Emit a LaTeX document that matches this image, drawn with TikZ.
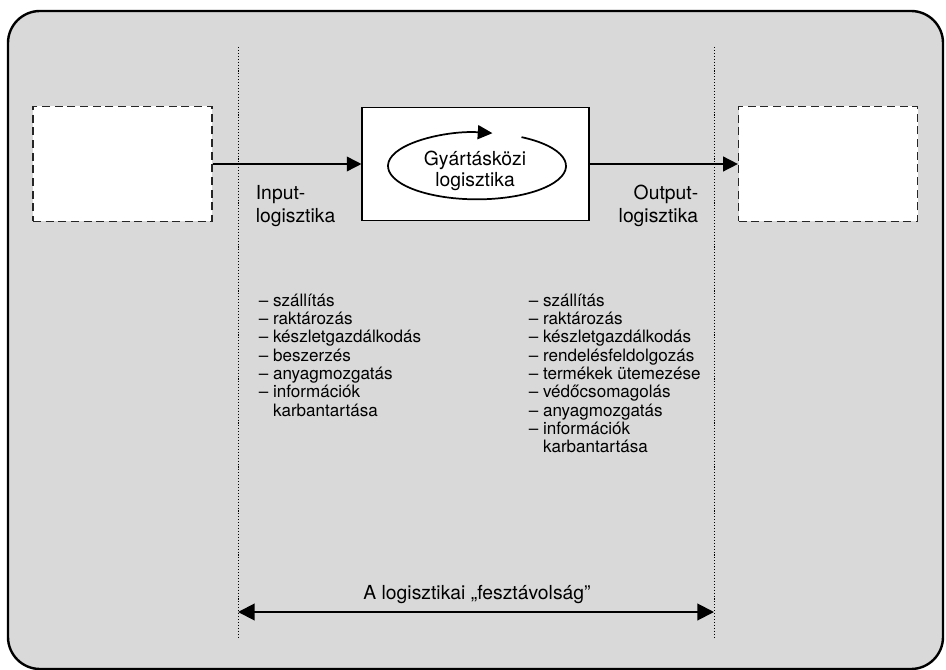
\documentclass[tikz,border=0pt]{standalone}
\usepackage{fontspec}
\setmainfont{TeX Gyre Heros}
\usetikzlibrary{arrows.meta,positioning}

\definecolor{hatter}{RGB}{217,217,217}

\tikzstyle{doboz}=[draw,line width=0.8pt,fill=white,minimum width=170.25pt,minimum height=84.75pt,inner sep=0pt]
\tikzstyle{kulso}=[draw=black!85,fill=white,line width=0.9pt,dash pattern=on 6pt off 3.5pt,minimum width=134.25pt,minimum height=86.25pt,inner sep=0pt]
\tikzstyle{texto}=[inner sep=0pt,font=\fontsize{14.5}{17.25}\selectfont]
\tikzstyle{lista}=[inner sep=0pt,anchor=base west,font=\fontsize{12.8}{13.75}\selectfont]
\tikzstyle{pont}=[line width=0.7pt,dash pattern=on 0.8pt off 1.4pt]

\begin{document}
\begin{tikzpicture}[x=0.75pt,y=-0.75pt,>={Triangle[length=11pt,width=11pt]},line width=1.2pt]
  \useasboundingbox (0,0) rectangle (946,670);
  \draw [line width=1.8pt,fill=hatter,rounded corners=24pt] (8,11) rectangle (943,669);

  \coordinate (f1) at (238,47);
  \coordinate (a1) at (238,639);
  \coordinate (f2) at (714,47);
  \coordinate (a2) at (714,639);
  \draw [pont] (f1) -- (a1);
  \draw [pont] (f2) -- (a2);

  \node [doboz] (gy) at (475.5,164) {};
  \node [kulso] (be) at (122.5,164) {};
  \node [kulso] (ki) at (828,164) {};
  \draw [->] (be) -- (gy);
  \draw [->] (gy) -- (ki);

  \coordinate (kor) at (477,166);
  \draw [line width=1.3pt,-{Triangle[length=11pt,width=10.5pt]}]
    ([shift={(60:66.75pt and 25pt)}]kor) arc [start angle=60,end angle=-280,x radius=66.75pt,y radius=25pt];
  \node [texto,anchor=base,font=\fontsize{14.5}{15.75}\selectfont] (gyt) at (475,166)
    {\begin{tabular}[t]{@{}c@{}}Gyártásközi\\logisztika\end{tabular}};

  \node [texto,anchor=base west] (inp) at (255,200)
    {\begin{tabular}[t]{@{}l@{}}Input-\\logisztika\end{tabular}};
  \node [texto,anchor=base east] (outp) at (699,200)
    {\begin{tabular}[t]{@{}r@{}}Output-\\logisztika\end{tabular}};

  \node [lista] (l1) at (258,306)
    {\begin{tabular}[t]{@{}l@{\ }l@{}}
      – & szállítás\\
      – & raktározás\\
      – & készletgazdálkodás\\
      – & beszerzés\\
      – & anyagmozgatás\\
      – & információk\\
        & karbantartása
    \end{tabular}};
  \node [lista] (l2) at (528,306)
    {\begin{tabular}[t]{@{}l@{\ }l@{}}
      – & szállítás\\
      – & raktározás\\
      – & készletgazdálkodás\\
      – & rendelésfeldolgozás\\
      – & termékek ütemezése\\
      – & védőcsomagolás\\
      – & anyagmozgatás\\
      – & információk\\
        & karbantartása
    \end{tabular}};

  \coordinate (bal) at (238,612);
  \coordinate (jobb) at (714,612);
  \draw [{Triangle[length=12.5pt,width=12.5pt]}-{Triangle[length=12.5pt,width=12.5pt]},line width=1.5pt] (bal) -- (jobb);
  \node [texto,anchor=base] (feszt) at (477,599) {A logisztikai „fesztávolság”};
\end{tikzpicture}
\end{document}
